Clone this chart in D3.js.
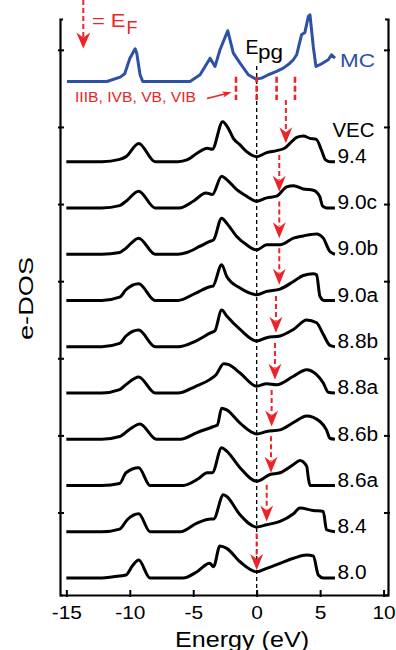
<!DOCTYPE html>
<html>
<head>
<meta charset="utf-8">
<script src="https://cdn.jsdelivr.net/npm/d3@7"></script>
<style>
  html, body { margin: 0; padding: 0; background: #fff; }
  svg { display: block; }
  text { font-family: "Liberation Sans", Arial, Helvetica, sans-serif; }
</style>
</head>
<body>
<svg id="chart" width="396" height="650"></svg>
<script>
// ---- Data: [energy (eV), e-DOS (arb. units)] ----
const dosMC = [[-14.95,0],[-11.8,0],[-10.76,0.56],[-10.4,1.0],[-10.0,2.98],[-9.58,4.24],[-9.45,3.67],[-9.19,0.87],[-8.98,0],[-5.25,0],[-4.46,0.87],[-3.67,3.02],[-3.28,1.95],[-2.89,4.11],[-2.28,6.58],[-1.84,3.67],[-1.31,2.37],[-0.66,0.87],[-0.05,0.3],[0.39,0.43],[0.92,0.87],[1.57,1.3],[2.1,1.73],[2.62,2.37],[2.89,2.81],[3.15,3.46],[3.54,6.06],[3.8,6.36],[4.07,8.43],[4.2,8.65],[4.46,4.54],[4.67,1.95],[4.99,2.17],[5.64,2.81],[5.9,3.46],[6.17,3.02]];

const dos94  = [[-15,0],[-12.2,0],[-10.8,0.3],[-10.3,0.65],[-9.3,2.37],[-8.0,0],[-6.2,0],[-5.5,0.22],[-4.7,1.08],[-3.9,1.73],[-3.5,1.6],[-2.68,5.19],[-2.24,4.32],[-1.84,3.02],[-1.31,2.17],[-0.79,1.3],[0,0.65],[0.79,1.17],[1.57,1.43],[2.2,1.73],[2.62,2.37],[3.15,3.15],[3.67,3.33],[4.2,3.02],[4.7,2.89],[5.1,1.52],[5.43,0.22],[5.75,0],[6.17,0]];
const dos90c = [[-15,0],[-12.2,0],[-10.8,0.3],[-10.3,0.87],[-9.3,2.17],[-8.0,0],[-6.1,0],[-5.0,0.87],[-4.0,1.95],[-3.5,1.73],[-2.76,4.11],[-2.36,3.67],[-1.57,2.37],[-0.79,1.52],[0,0.87],[0.79,1.3],[1.57,1.52],[2.36,2.72],[2.9,2.89],[3.67,2.46],[4.46,2.3],[4.96,1.52],[5.2,0.22],[5.5,0],[6.17,0]];
const dos90b = [[-15,0],[-12.2,0],[-10.8,0.22],[-10.3,0.78],[-9.3,2.08],[-8.0,0],[-6.2,0],[-5.5,0.22],[-4.5,1.0],[-3.7,1.65],[-3.4,1.85],[-2.76,4.67],[-2.36,4.02],[-1.57,2.3],[-0.79,1.21],[0,0.56],[0.79,1.21],[1.84,1.21],[2.9,2.08],[3.67,2.37],[4.72,2.63],[5.25,2.08],[5.77,0.35],[6.17,0]];
const dos90a = [[-15,0],[-12.2,0],[-10.8,0.43],[-10.3,1.39],[-9.3,2.17],[-8.0,0],[-6.2,0],[-4.8,0.95],[-3.6,1.82],[-3.45,1.85],[-2.76,4.63],[-2.36,3.11],[-1.31,1.6],[0,0.74],[0.79,1.17],[1.84,1.47],[2.9,2.46],[3.67,3.24],[4.46,3.46],[4.72,3.33],[4.99,0.52],[5.3,0],[6.17,0]];
const dos88b = [[-15,0],[-12.2,0],[-10.8,0.43],[-10.3,1.39],[-9.3,2.17],[-8.0,0],[-6.2,0],[-4.8,0.74],[-3.6,1.82],[-3.3,2.04],[-2.76,4.76],[-2.36,3.98],[-1.31,2.24],[0,0.74],[0.79,1.17],[1.84,1.39],[2.9,2.24],[3.94,3.46],[4.72,3.11],[5.25,1.6],[5.77,0.17],[6.17,0]];
const dos88a = [[-15,0],[-12.2,0],[-10.8,0.43],[-10.3,1.08],[-9.3,2.08],[-8.0,0],[-6.2,0],[-4.8,0.87],[-3.7,1.73],[-3.2,2.37],[-2.6,3.8],[-2.2,3.67],[-1.31,2.59],[0,0.87],[0.79,1.21],[1.57,1.08],[2.9,2.17],[3.94,3.02],[4.72,2.37],[5.25,1.3],[5.64,0.09],[6.17,0]];
const dos86b = [[-15,0],[-12.2,0],[-10.8,0.35],[-10.0,1.3],[-9.2,1.98],[-7.9,0],[-6.0,0],[-4.7,0.87],[-3.4,1.65],[-3.1,1.85],[-2.76,4.02],[-2.36,3.8],[-1.31,2.08],[0,0.69],[0.79,1.0],[1.84,1.21],[2.9,2.17],[3.94,3.02],[4.99,2.3],[5.5,1.21],[5.77,0.13],[6.17,0]];
const dos86a = [[-15,0],[-12.2,0],[-10.8,0.26],[-10.3,1.65],[-9.3,2.3],[-8.4,0],[-5.8,0],[-4.6,0.87],[-3.9,1.65],[-3.5,1.65],[-2.76,4.89],[-2.36,4.45],[-1.31,2.3],[0,0.56],[1.05,1.43],[1.84,1.65],[2.9,2.72],[3.41,3.24],[3.94,2.5],[4.07,1.0],[4.2,0],[6.17,0]];
const dos84  = [[-15,0],[-12.2,0],[-10.8,0.35],[-10.2,1.56],[-9.3,2.33],[-8.4,0],[-6.0,0],[-4.7,1.13],[-3.6,1.65],[-3.4,1.65],[-2.62,4.8],[-2.36,4.58],[-1.31,2.2],[0,0.61],[0.79,0.91],[1.84,1.34],[2.9,2.33],[3.41,3.07],[4.46,2.76],[5.25,2.63],[5.5,0.26],[6.17,0]];
const dos80  = [[-15,0],[-12.2,0],[-11.3,0.17],[-10.3,0.39],[-9.8,1.56],[-9.3,2.33],[-8.4,0],[-5.8,0],[-4.7,0.82],[-3.7,1.91],[-3.4,1.47],[-2.9,4.15],[-2.36,3.85],[-1.31,2.11],[0,0.82],[0.79,1.26],[1.84,1.91],[2.9,2.56],[3.94,2.98],[4.46,2.85],[4.86,0.39],[5.25,0],[6.17,0]];

// Stacked curves, top to bottom, with their VEC labels
const vecLabels = ["9.4", "9.0c", "9.0b", "9.0a", "8.8b", "8.8a", "8.6b", "8.6a", "8.4", "8.0"];
const dosCurves = [dos94, dos90c, dos90b, dos90a, dos88b, dos88a, dos86b, dos86a, dos84, dos80];

// Fermi level of each alloy (eV) and the arrow tip / tail heights above the curve baseline
const efEnergy = [2.3, 1.78, 1.78, 1.78, 1.52, 1.44, 1.18, 1.13, 0.79, 0.0];
const efTip    = [2.4, 2.11, 2.08, 2.03, 1.82, 1.73, 1.65, 1.65, 1.34, 1.04];
const efTail   = [8.0, 6.86, 6.83, 6.78, 6.57, 6.48, 6.4, 6.4, 6.09, 5.79];

// E_F positions of the group IIIB, IVB, VB, VIB elements marked under the MC curve
const mcMarks = [-1.63, 0, 1.57, 3.02];

const xTicks = [-15, -10, -5, 0, 5, 10];
const yTicks = [10, 20, 30, 40, 50, 60, 70];

const stackBase = 1.5, stackStep = 6, mcBase = 65.9;

// ---- Drawing ----
const RED = "#ec2327", BLUE = "#2d51a6";
const svg = d3.select("#chart");
const x = d3.scaleLinear().domain([-15.5, 10.35]).range([60, 388]);
const y = d3.scaleLinear().domain([-0.7, 74]).range([595, 19]);

function stretch(sel, k) {
  sel.each(function () {
    const w = this.getComputedTextLength();
    this.setAttribute("textLength", w * k);
    this.setAttribute("lengthAdjust", "spacingAndGlyphs");
  });
  return sel;
}
function fit(sel, w) {
  return sel.attr("textLength", w).attr("lengthAdjust", "spacingAndGlyphs");
}

// frame / axes
const gx = svg.append("g").attr("transform", "translate(0,595)")
  .call(d3.axisBottom(x).tickValues(xTicks).tickFormat(d => String(d)).tickSizeOuter(0));
gx.attr("font-family", null).attr("font-size", null);
gx.select(".domain").attr("stroke-width", 2.2);
gx.selectAll(".tick line").attr("y1", 2).attr("y2", -5).attr("stroke-width", 2);
gx.selectAll(".tick text").attr("y", 23.5).attr("dy", null)
  .attr("font-size", 19).attr("fill", "#000")
  .call(stretch, 1.1);

const gl = svg.append("g").attr("transform", "translate(60,0)")
  .call(d3.axisLeft(y).tickValues(yTicks).tickFormat("").tickSizeOuter(-3));
gl.select(".domain").attr("stroke-width", 2.2);
gl.selectAll(".tick line").attr("x1", -2).attr("x2", 4).attr("stroke-width", 2);

const gr = svg.append("g").attr("transform", "translate(388,0)")
  .call(d3.axisRight(y).tickValues(yTicks).tickFormat("").tickSizeOuter(-3));
gr.select(".domain").attr("stroke-width", 2.2);
gr.selectAll(".tick line").attr("x1", 2).attr("x2", -4).attr("stroke-width", 2);

// axis titles
svg.append("text").attr("x", 242).attr("y", 646.5).attr("text-anchor", "middle")
  .attr("font-size", 22).text("Energy (eV)").call(fit, 134);
svg.append("text").attr("transform", "translate(33,298.5) rotate(-90)")
  .attr("text-anchor", "middle").attr("font-size", 21).text("e-DOS").call(fit, 83);

// E = 0 reference line
svg.append("line")
  .attr("x1", x(0)).attr("x2", x(0))
  .attr("y1", y(mcBase + 2.0)).attr("y2", y(-0.7))
  .attr("stroke", "#000").attr("stroke-width", 1.3).attr("stroke-dasharray", "4,3");

// stacked DOS curves
dosCurves.forEach((pts, i) => {
  const base = stackBase + stackStep * (dosCurves.length - 1 - i);
  const line = d3.line().x(d => x(d[0])).y(d => y(base + d[1])).curve(d3.curveMonotoneX);
  svg.append("path").datum(pts).attr("d", line)
    .attr("fill", "none").attr("stroke", "#000").attr("stroke-width", 3)
    .attr("stroke-linejoin", "round");
  svg.append("text").attr("x", 337.5).attr("y", y(base) + 1.3)
    .attr("font-size", 19.5).text(vecLabels[i]).call(stretch, 1.07);
});
svg.append("text").attr("x", 332.5).attr("y", 136.7)
  .attr("font-size", 19.5).text("VEC").call(fit, 42);

// MC curve
const mcLine = d3.line().x(d => x(d[0])).y(d => y(mcBase + d[1])).curve(d3.curveLinear);
svg.append("path").datum(dosMC).attr("d", mcLine)
  .attr("fill", "none").attr("stroke", BLUE).attr("stroke-width", 3)
  .attr("stroke-linejoin", "round");
svg.append("text").attr("x", 340).attr("y", 66.7).attr("font-size", 19)
  .attr("fill", BLUE).text("MC").call(fit, 35);

// pseudogap label
svg.append("text").attr("x", 245.5).attr("y", 53.5).attr("font-size", 19.5).text("E");
svg.append("text").attr("x", 258).attr("y", 59.3).attr("font-size", 21).text("pg").call(fit, 25);

// red E_F markers under the MC curve
svg.selectAll(".mcmark").data(mcMarks).enter().append("line")
  .attr("x1", d => x(d)).attr("x2", d => x(d))
  .attr("y1", y(mcBase + 0.6)).attr("y2", y(mcBase - 2.4))
  .attr("stroke", RED).attr("stroke-width", 2.6).attr("stroke-dasharray", "6,3");

// arrowhead with notched back, tip at origin pointing down
const headPath = (w, l, n) => `M0,0L${-w / 2},${-l}L0,${-n}L${w / 2},${-l}Z`;

// E_F arrows for each curve
efEnergy.forEach((e, i) => {
  const base = stackBase + stackStep * (dosCurves.length - 1 - i);
  const xt = x(e), yt = y(base + efTip[i]), y0 = y(base + efTail[i]);
  svg.append("line").attr("x1", xt).attr("x2", xt).attr("y1", y0).attr("y2", yt - 12)
    .attr("stroke", RED).attr("stroke-width", 2).attr("stroke-dasharray", "5,3");
  svg.append("path").attr("d", headPath(13, 16, 11))
    .attr("transform", `translate(${xt},${yt})`).attr("fill", RED);
});

// legend: dashed arrow = E_F
svg.append("line").attr("x1", 83.3).attr("x2", 83.3).attr("y1", 0).attr("y2", 37)
  .attr("stroke", RED).attr("stroke-width", 2).attr("stroke-dasharray", "5,3");
svg.append("path").attr("d", headPath(14, 16, 11))
  .attr("transform", "translate(83.3,48.5)").attr("fill", RED);
svg.append("text").attr("x", 92).attr("y", 27.3).attr("font-size", 19)
  .attr("fill", RED).text("= E").call(fit, 33.5);
svg.append("text").attr("x", 126.5).attr("y", 34.3).attr("font-size", 19)
  .attr("fill", RED).text("F").call(fit, 11);

// element group label with pointer
svg.append("text").attr("x", 75).attr("y", 101.7).attr("font-size", 14)
  .attr("fill", RED).text("IIIB, IVB, VB, VIB").call(fit, 121);
{
  const tx = x(mcMarks[0]) - 4.5, ty = y(mcBase - 1.4);
  const sx = 207, sy = 98.6;
  const ang = Math.atan2(ty - sy, tx - sx) * 180 / Math.PI;
  svg.append("line").attr("x1", sx).attr("y1", sy)
    .attr("x2", tx - 6 * Math.cos(ang * Math.PI / 180))
    .attr("y2", ty - 6 * Math.sin(ang * Math.PI / 180))
    .attr("stroke", RED).attr("stroke-width", 1.6);
  svg.append("path").attr("d", headPath(6, 9, 7))
    .attr("transform", `translate(${tx},${ty}) rotate(${ang - 90})`).attr("fill", RED);
}
</script>
</body>
</html>
